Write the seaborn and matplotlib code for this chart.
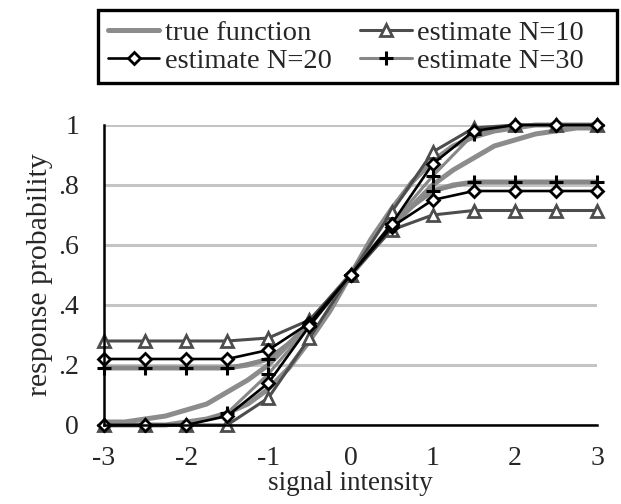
import matplotlib
matplotlib.use('Agg')
import matplotlib.pyplot as plt
from matplotlib.patches import Rectangle
import seaborn as sns

# signal levels of the estimates
x = [-3, -2.5, -2, -1.5, -1, -0.5, 0, 0.5, 1, 1.5, 2, 2.5, 3]

n10_a = [0.28, 0.28, 0.28, 0.28, 0.29, 0.35, 0.5, 0.65, 0.70, 0.715, 0.715, 0.715, 0.715]
n10_b = [0, 0, 0, 0, 0.09, 0.29, 0.5, 0.71, 0.91, 0.99, 1, 1, 1]
n20_a = [0.22, 0.22, 0.22, 0.22, 0.25, 0.34, 0.5, 0.66, 0.75, 0.78, 0.78, 0.78, 0.78]
n20_b = [0, 0, 0, 0.03, 0.14, 0.33, 0.5, 0.67, 0.87, 0.98, 1, 1, 1]
n30_a = [0.19, 0.19, 0.19, 0.19, 0.22, 0.33, 0.5, 0.67, 0.78, 0.81, 0.81, 0.81, 0.81]
n30_b = [0, 0, 0, 0.04, 0.17, 0.33, 0.5, 0.67, 0.83, 0.97, 1, 1, 1]

# true functions, read at finer steps
xt = [-3, -2.75, -2.5, -2.25, -2, -1.75, -1.5, -1.25, -1, -0.75, -0.5, -0.25, 0,
      0.25, 0.5, 0.75, 1, 1.25, 1.5, 1.75, 2, 2.25, 2.5, 2.75, 3]
true_shallow = [0.01, 0.01, 0.02, 0.03, 0.05, 0.07, 0.11, 0.15, 0.2, 0.27, 0.34, 0.42, 0.5,
                0.58, 0.66, 0.73, 0.8, 0.85, 0.89, 0.93, 0.95, 0.97, 0.98, 0.99, 0.99]
true_steep = [0, 0, 0, 0, 0.01, 0.02, 0.04, 0.07, 0.12, 0.19, 0.28, 0.38, 0.5,
              0.62, 0.72, 0.81, 0.88, 0.93, 0.96, 0.98, 0.99, 1, 1, 1, 1]
true_lapse = [0.19, 0.19, 0.19, 0.19, 0.19, 0.19, 0.19, 0.2, 0.22, 0.27, 0.34, 0.42, 0.5,
              0.58, 0.66, 0.73, 0.78, 0.8, 0.81, 0.81, 0.81, 0.81, 0.81, 0.81, 0.81]

yticks = [0, 0.2, 0.4, 0.6, 0.8, 1]
ytick_labels = ['0', '.2', '.4', '.6', '.8', '1']
xticks = [-3, -2, -1, 0, 1, 2, 3]


def main():
    sns.set_style('white')
    plt.rcParams['font.family'] = ['Liberation Serif', 'DejaVu Serif']
    plt.rcParams['axes.unicode_minus'] = False

    fig = plt.figure(figsize=(6.21, 5.04), dpi=100)
    ax = fig.add_axes([104 / 621, 1 - 425 / 504, 493 / 621, 300 / 504])

    true_style = dict(color='#8c8c8c', linewidth=3.6, zorder=2, clip_on=False,
                      estimator=None, sort=False)
    for i, yy in enumerate([true_shallow, true_steep, true_lapse]):
        sns.lineplot(x=xt, y=yy, ax=ax,
                     label='true function' if i == 0 else '_nolegend_', **true_style)

    n10_style = dict(color='#4d4d4d', linewidth=2.2, marker='^', markersize=9,
                     markerfacecolor='white', markeredgecolor='#4d4d4d',
                     markeredgewidth=2, zorder=3, clip_on=False, estimator=None)
    n30_style = dict(color='#878787', linewidth=2.2, marker='+', markersize=10,
                     markeredgecolor='black', markeredgewidth=2.2,
                     zorder=4, clip_on=False, estimator=None)
    n20_style = dict(color='black', linewidth=1.9, marker='D', markersize=6.5,
                     markerfacecolor='white', markeredgecolor='black',
                     markeredgewidth=2, zorder=5, clip_on=False, estimator=None)

    sns.lineplot(x=x, y=n10_a, ax=ax, label='estimate N=10', **n10_style)
    sns.lineplot(x=x, y=n10_b, ax=ax, label='_nolegend_', **n10_style)
    sns.lineplot(x=x, y=n30_a, ax=ax, label='estimate N=30', **n30_style)
    sns.lineplot(x=x, y=n30_b, ax=ax, label='_nolegend_', **n30_style)
    sns.lineplot(x=x, y=n20_a, ax=ax, label='estimate N=20', **n20_style)
    sns.lineplot(x=x, y=n20_b, ax=ax, label='_nolegend_', **n20_style)

    ax.set_xlim(-3, 3)
    ax.set_ylim(0, 1)
    ax.set_yticks(yticks)
    ax.set_yticklabels(ytick_labels)
    ax.set_xticks(xticks)
    ax.set_xticks(x, minor=True)
    ax.tick_params(axis='both', which='both', direction='out', length=7, width=1.8,
                   color='black', labelsize=20)
    ax.tick_params(axis='y', pad=11)
    ax.tick_params(axis='x', which='both', pad=8)

    ax.yaxis.grid(True, color='#c4c4c4', linewidth=2.2)
    ax.xaxis.grid(False)
    ax.set_axisbelow(True)
    sns.despine(ax=ax)
    for side in ['left', 'bottom']:
        ax.spines[side].set_linewidth(1.8)
        ax.spines[side].set_color('black')
        ax.spines[side].set_zorder(6)

    ax.set_xlabel('signal intensity', fontsize=19.5, labelpad=0)
    ax.set_ylabel('response probability', fontsize=21.5, labelpad=4)

    handles, labels = ax.get_legend_handles_labels()
    order = ['true function', 'estimate N=20', 'estimate N=10', 'estimate N=30']
    lookup = dict(zip(labels, handles))
    ax.legend_.remove()
    fig.legend([lookup[k] for k in order], order, ncol=2,
               loc='upper left', bbox_to_anchor=(108 / 621, 1 - 20 / 504),
               fontsize=20.5, frameon=False,
               handlelength=1.8, handletextpad=0.2, columnspacing=1.0,
               labelspacing=0.08, borderpad=0, borderaxespad=0)
    # legend frame is wider than its content in the original
    fig.patches.append(Rectangle((98 / 621, 1 - 83 / 504), 519 / 621, 73 / 504,
                                 transform=fig.transFigure, fill=False,
                                 linewidth=2.4, edgecolor='black'))

    plt.savefig('out.png', dpi=100)


if __name__ == '__main__':
    main()
